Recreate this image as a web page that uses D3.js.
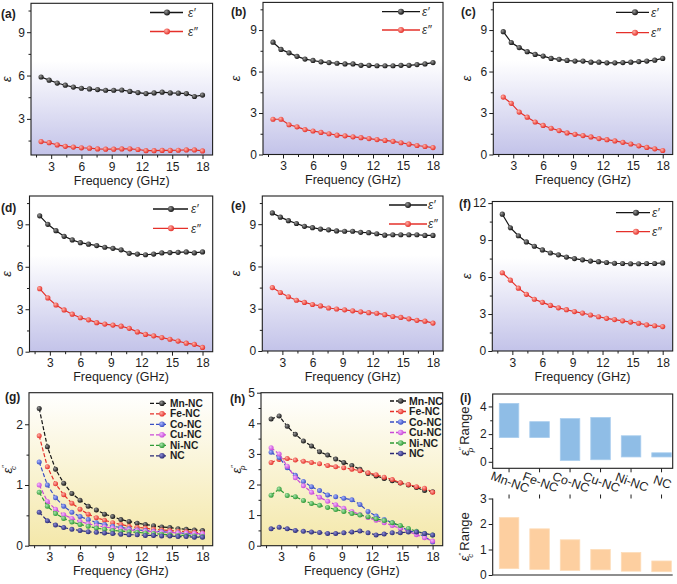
<!DOCTYPE html>
<html><head><meta charset="utf-8">
<script src="https://cdn.jsdelivr.net/npm/d3@7"></script>
<style>body{margin:0;background:#fff} svg{display:block;font-family:"Liberation Sans",Arial,sans-serif}</style>
</head><body><svg id="c" width="677" height="584"></svg>
<script>
// ---------- DATA ----------
const freq = [2,2.8,3.6,4.4,5.2,6,6.8,7.6,8.4,9.2,10,10.8,11.6,12.4,13.2,14,14.8,15.6,16.4,17.2,18];
const xTicks = [3,6,9,12,15,18];
const xMinor = [1.5,4.5,7.5,10.5,13.5,16.5];

const a_real = [5.9,5.68,5.48,5.33,5.2,5.12,5.07,5.03,4.98,4.98,5.0,4.9,4.82,4.75,4.8,4.85,4.8,4.78,4.75,4.55,4.65];
const a_imag = [1.43,1.35,1.2,1.1,1.05,1.0,0.97,0.92,0.9,0.9,0.92,0.93,0.88,0.8,0.8,0.82,0.82,0.83,0.85,0.85,0.78];
const b_real = [8.12,7.6,7.35,7.1,6.9,6.8,6.7,6.65,6.6,6.55,6.55,6.45,6.45,6.42,6.42,6.42,6.45,6.45,6.5,6.55,6.65];
const b_imag = [2.55,2.55,2.15,2.0,1.8,1.7,1.6,1.5,1.4,1.35,1.28,1.22,1.15,1.08,1.02,0.95,0.85,0.75,0.65,0.58,0.5];
const c_real = [8.88,8.1,7.73,7.44,7.24,7.12,6.95,6.88,6.8,6.76,6.76,6.68,6.68,6.63,6.63,6.65,6.68,6.72,6.76,6.82,6.95];
const c_imag = [4.15,3.7,3.07,2.7,2.35,2.1,1.9,1.73,1.56,1.46,1.37,1.27,1.15,1.07,0.98,0.88,0.76,0.63,0.51,0.41,0.29];
const d_real = [9.6,9.0,8.55,8.15,7.9,7.7,7.6,7.5,7.38,7.3,7.2,6.95,6.9,6.85,6.9,6.98,7.0,7.02,7.05,6.98,7.05];
const d_imag = [4.45,3.8,3.3,2.95,2.65,2.4,2.25,2.05,1.95,1.88,1.8,1.65,1.4,1.22,1.12,1.0,0.88,0.75,0.6,0.52,0.3];
const e_real = [9.8,9.5,9.25,9.05,8.85,8.75,8.65,8.6,8.52,8.5,8.5,8.42,8.4,8.32,8.22,8.25,8.25,8.25,8.25,8.2,8.2];
const e_imag = [4.5,4.15,3.85,3.6,3.45,3.3,3.2,3.05,2.98,2.92,2.85,2.78,2.72,2.68,2.58,2.45,2.38,2.28,2.18,2.12,1.98];
const f_real = [11.1,10.0,9.35,8.85,8.5,8.2,7.95,7.8,7.62,7.5,7.4,7.3,7.25,7.18,7.12,7.1,7.08,7.08,7.1,7.1,7.15];
const f_imag = [6.35,5.75,5.1,4.6,4.2,3.95,3.7,3.5,3.35,3.2,3.08,2.92,2.78,2.65,2.55,2.45,2.35,2.25,2.12,2.05,1.98];

const materials = ["Mn-NC","Fe-NC","Co-NC","Cu-NC","Ni-NC","NC"];
// conduction loss eps''_c (g)
const gc_Mn = [2.26,1.63,1.26,1.03,0.86,0.75,0.65,0.59,0.52,0.48,0.43,0.4,0.37,0.35,0.33,0.31,0.3,0.28,0.27,0.26,0.25];
const gc_Fe = [1.81,1.3,1.02,0.84,0.7,0.6,0.52,0.46,0.42,0.38,0.35,0.32,0.3,0.29,0.27,0.26,0.25,0.24,0.23,0.22,0.21];
const gc_Co = [1.38,1.0,0.79,0.65,0.55,0.48,0.43,0.38,0.35,0.32,0.3,0.28,0.26,0.25,0.24,0.23,0.22,0.21,0.2,0.19,0.18];
const gc_Cu = [1.0,0.73,0.6,0.51,0.45,0.4,0.36,0.33,0.31,0.29,0.27,0.26,0.25,0.24,0.23,0.22,0.22,0.21,0.21,0.2,0.2];
const gc_Ni = [0.88,0.65,0.53,0.45,0.39,0.35,0.32,0.29,0.27,0.25,0.24,0.23,0.22,0.21,0.2,0.19,0.18,0.17,0.17,0.16,0.15];
const gc_NC = [0.55,0.41,0.34,0.3,0.27,0.25,0.23,0.22,0.21,0.2,0.19,0.18,0.18,0.17,0.17,0.16,0.16,0.15,0.15,0.14,0.14];
// polarization loss eps''_p (h)
const hp_Mn = [4.14,4.24,3.9,3.64,3.42,3.26,3.07,2.96,2.83,2.72,2.62,2.5,2.36,2.28,2.2,2.12,2.05,1.98,1.9,1.8,1.76];
const hp_Fe = [2.72,2.82,2.85,2.8,2.76,2.72,2.68,2.62,2.58,2.55,2.5,2.45,2.38,2.32,2.24,2.16,2.06,2.0,1.93,1.88,1.75];
const hp_Co = [3.05,2.88,2.55,2.3,2.1,1.93,1.8,1.66,1.6,1.55,1.5,1.35,1.12,0.97,0.86,0.75,0.62,0.5,0.42,0.3,0.12];
const hp_Cu = [3.2,3.0,2.6,2.22,1.96,1.75,1.58,1.45,1.34,1.22,1.12,1.02,0.92,0.83,0.75,0.66,0.56,0.46,0.36,0.26,0.15];
const hp_Ni = [1.65,1.85,1.64,1.6,1.48,1.38,1.32,1.25,1.18,1.12,1.05,1.0,0.95,0.88,0.82,0.75,0.66,0.56,0.47,0.4,0.35];
const hp_NC = [0.55,0.6,0.55,0.5,0.47,0.45,0.43,0.4,0.4,0.42,0.45,0.48,0.42,0.35,0.38,0.42,0.42,0.45,0.45,0.4,0.35];
// ranges (i)
const epsP_low  = [1.75,1.75,0.1,0.15,0.35,0.35];
const epsP_high = [4.22,2.9,3.12,3.2,1.88,0.65];
const epsC_low  = [0.25,0.22,0.18,0.2,0.15,0.13];
const epsC_high = [2.25,1.81,1.38,1.0,0.88,0.55];

// ---------- STYLE ----------
const svg = d3.select("#c");
const defs = svg.append("defs");
const colors = {black:"#151515", red:"#e5302a", blue:"#3a4fc4", mag:"#c94ad8", green:"#2f9a36", navy:"#2a2a76"};
const lights = {black:"#9a9a9a", red:"#ffb2a8", blue:"#a9b6ff", mag:"#f3b8ff", green:"#a8e6ac", navy:"#8c8cd6"};
Object.keys(colors).forEach(k=>{
  const rg = defs.append("radialGradient").attr("id","sph-"+k).attr("cx","0.4").attr("cy","0.4").attr("r","0.6").attr("fx","0.35").attr("fy","0.35");
  rg.append("stop").attr("offset","0%").attr("stop-color",lights[k]);
  rg.append("stop").attr("offset","100%").attr("stop-color",colors[k]);
});
const lav = defs.append("linearGradient").attr("id","lav").attr("x1",0).attr("y1",0).attr("x2",0).attr("y2",1);
lav.append("stop").attr("offset","0%").attr("stop-color","#ffffff");
lav.append("stop").attr("offset","38%").attr("stop-color","#ffffff");
lav.append("stop").attr("offset","100%").attr("stop-color","#c3c3e9");
const yel = defs.append("linearGradient").attr("id","yel").attr("x1",0).attr("y1",0).attr("x2",0).attr("y2",1);
yel.append("stop").attr("offset","0%").attr("stop-color","#ffffff");
yel.append("stop").attr("offset","100%").attr("stop-color","#f4e8aa");

const TXT = "#1e1e1e";
const fmt = d3.format("~g");
function styleAxis(sel){
  sel.select(".domain").remove();
  sel.selectAll(".tick line").attr("stroke",TXT).attr("stroke-width",1);
  sel.selectAll(".tick text").attr("fill",TXT).attr("font-size","12px").attr("font-family","Liberation Sans, Arial, sans-serif");
}

function epsLabel(g, x, y, sub, suffix, size){
  const t = g.append("text").attr("transform",`translate(${x},${y}) rotate(-90)`)
    .attr("text-anchor","middle").attr("fill",TXT).attr("font-size",size+"px");
  t.append("tspan").attr("font-style","italic").text("ε");
  if(sub){
    t.append("tspan").attr("font-size","8px").attr("dy",-5).text("″");
    t.append("tspan").attr("font-size","8px").attr("font-style","italic").attr("dx",-5).attr("dy",9).text(sub);
    if(suffix) t.append("tspan").attr("dy",-4).attr("dx",3).text(suffix);
  }
  return t;
}

function linePanel(cfg){
  const g = svg.append("g");
  const x = d3.scaleLinear().domain([1,19]).range([cfg.l,cfg.r]);
  const y = d3.scaleLinear().domain(cfg.yd).range([cfg.b,cfg.t]);
  g.append("rect").attr("x",cfg.l).attr("y",cfg.t).attr("width",cfg.r-cfg.l).attr("height",cfg.b-cfg.t).attr("fill",`url(#${cfg.grad})`);
  const xa = g.append("g").attr("transform",`translate(0,${cfg.b})`).call(d3.axisBottom(x).tickValues(xTicks).tickSize(4).tickPadding(3).tickFormat(fmt));
  styleAxis(xa);
  const xm = g.append("g").attr("transform",`translate(0,${cfg.b})`).call(d3.axisBottom(x).tickValues(xMinor).tickSize(2.5).tickFormat(""));
  styleAxis(xm);
  const ya = g.append("g").attr("transform",`translate(${cfg.l},0)`).call(d3.axisLeft(y).tickValues(cfg.yt).tickSize(4).tickPadding(2).tickFormat(fmt));
  styleAxis(ya);
  const ym = g.append("g").attr("transform",`translate(${cfg.l},0)`).call(d3.axisLeft(y).tickValues(cfg.ym).tickSize(2.5).tickFormat(""));
  styleAxis(ym);
  const line = d3.line().x((d,i)=>x(freq[i])).y(d=>y(d));
  cfg.series.forEach(s=>{
    g.append("path").datum(s.v).attr("d",line).attr("fill","none").attr("stroke",colors[s.c]).attr("stroke-width",1.2)
      .attr("stroke-dasharray",cfg.dashed?"4,2":null);
    g.append("g").selectAll("circle").data(s.v).join("circle")
      .attr("cx",(d,i)=>x(freq[i])).attr("cy",d=>y(d)).attr("r",cfg.mr||2.6).attr("fill",`url(#sph-${s.c})`);
  });
  g.append("rect").attr("x",cfg.l).attr("y",cfg.t).attr("width",cfg.r-cfg.l).attr("height",cfg.b-cfg.t).attr("fill","none").attr("stroke",TXT).attr("stroke-width",1.1);
  g.append("text").attr("x",(cfg.l+cfg.r)/2).attr("y",cfg.b+cfg.xtOff).attr("text-anchor","middle").attr("font-size","12.5px").attr("fill",TXT).text("Frequency (GHz)");
  g.append("text").attr("x",cfg.lab[0]).attr("y",cfg.lab[1]).attr("font-size","12px").attr("font-weight","bold").attr("fill",TXT).text(cfg.name);
  return {g,x,y};
}

// ---------- PANELS a-f ----------
const eps2 = [{name:"ε′"},{name:"ε″"}];
const rowPanels = [
  {name:"(a)",l:31,r:212.6,t:3.3,b:155,yd:[0.5,11],yt:[3,6,9],ym:[1.5,4.5,7.5,10.5],re:a_real,im:a_imag,lab:[1,18],yl:11,leg:[150,183,167,188,12.5,31.5]},
  {name:"(b)",l:263,r:443,t:2.4,b:154.5,yd:[0,11],yt:[0,3,6,9],ym:[1.5,4.5,7.5,10.5],re:b_real,im:b_imag,lab:[231,16],yl:240,leg:[382,420,401,422,11.7,30]},
  {name:"(c)",l:493.3,r:672.7,t:2.4,b:154.5,yd:[0,11],yt:[0,3,6,9],ym:[1.5,4.5,7.5,10.5],re:c_real,im:c_imag,lab:[461,16],yl:471,leg:[616,649,635,651,12.3,32.7]},
  {name:"(d)",l:29.5,r:212.7,t:196,b:351.7,yd:[0,11],yt:[0,3,6,9],ym:[1.5,4.5,7.5,10.5],re:d_real,im:d_imag,lab:[1,212],yl:11,leg:[153,188,171,191,209,228.3]},
  {name:"(e)",l:262.3,r:443,t:196,b:351,yd:[0,11],yt:[0,3,6,9],ym:[1.5,4.5,7.5,10.5],re:e_real,im:e_imag,lab:[231,210],yl:240,leg:[389,427,408,428,205,224]},
  {name:"(f)",l:492.3,r:672.7,t:201.5,b:351,yd:[0,12.13],yt:[0,3,6,9,12],ym:[1.5,4.5,7.5,10.5],re:f_real,im:f_imag,lab:[459,208],yl:471,leg:[616,650,636,652,212.7,231.7]}
];
rowPanels.forEach(p=>{
  const P = linePanel({...p, grad:"lav", xtOff:29.5, series:[{v:p.re,c:"black"},{v:p.im,c:"red"}]});
  epsLabel(P.g, p.yl, (p.t+p.b)/2, null, null, 13);
  const L = p.leg;
  [["black",L[4],eps2[0].name],["red",L[5],eps2[1].name]].forEach(([c,yy,nm])=>{
    P.g.append("line").attr("x1",L[0]).attr("x2",L[1]).attr("y1",yy).attr("y2",yy).attr("stroke",colors[c]).attr("stroke-width",1.3);
    P.g.append("circle").attr("cx",L[2]).attr("cy",yy).attr("r",3).attr("fill",`url(#sph-${c})`);
    P.g.append("text").attr("x",L[3]).attr("y",yy).attr("dy","0.35em").attr("font-size","12px").attr("font-style","italic").attr("fill","#333").text(nm);
  });
});

// ---------- PANELS g, h ----------
const matColors = ["black","red","blue","mag","green","navy"];
const gSeries = [gc_Mn,gc_Fe,gc_Co,gc_Cu,gc_Ni,gc_NC];
const hSeries = [hp_Mn,hp_Fe,hp_Co,hp_Cu,hp_Ni,hp_NC];
const ghPanels = [
  {name:"(g)",l:29,r:212.7,t:392.7,b:545.7,yd:[0,2.52],yt:[0,1,2],ym:[0.5,1.5],data:gSeries,lab:[5,401],yl:12,sub:"c",leg:[150,168,162,170],legY:[403.3,413.8,424.3,434.8,445.3,455.8],fs:10.2},
  {name:"(h)",l:261,r:442.7,t:392.7,b:545.7,yd:[0,5],yt:[0,1,2,3,4,5],ym:[0.5,1.5,2.5,3.5,4.5],data:hSeries,lab:[230,403],yl:241,sub:"p",leg:[390,407,400.7,409],legY:[401,411.5,422,432.5,443,453.5],fs:10.5}
];
ghPanels.forEach(p=>{
  const P = linePanel({...p, grad:"yel", dashed:true, mr:2.5, xtOff:29.5, series:p.data.map((v,i)=>({v,c:matColors[i]}))});
  epsLabel(P.g, p.yl, (p.t+p.b)/2, p.sub, null, 13);
  materials.forEach((m,i)=>{
    const yy = p.legY[i], c = matColors[i];
    P.g.append("line").attr("x1",p.leg[0]).attr("x2",p.leg[1]).attr("y1",yy).attr("y2",yy).attr("stroke",colors[c]).attr("stroke-width",1.3).attr("stroke-dasharray","4,2");
    P.g.append("circle").attr("cx",p.leg[2]).attr("cy",yy).attr("r",2.8).attr("fill",`url(#sph-${c})`);
    P.g.append("text").attr("x",p.leg[3]).attr("y",yy).attr("dy","0.36em").attr("font-size",p.fs+"px").attr("font-weight","bold").attr("fill",TXT).text(m);
  });
});

// ---------- PANEL i ----------
const gi = svg.append("g");
gi.append("text").attr("x",460).attr("y",402).attr("font-size","12px").attr("font-weight","bold").attr("fill",TXT).text("(i)");
const xb = d3.scaleBand().domain(materials).range([499.3,671.3]).paddingInner(0.36).paddingOuter(0);
const it = {l:492.7,r:672.7,t:394,b:468.3};
const yTop = d3.scaleLinear().domain([-0.47,4.9]).range([it.b,it.t]);
gi.selectAll("rect.bp").data(materials).join("rect").attr("class","bp")
  .attr("x",d=>xb(d)).attr("width",xb.bandwidth())
  .attr("y",(d,i)=>yTop(epsP_high[i])).attr("height",(d,i)=>yTop(epsP_low[i])-yTop(epsP_high[i]))
  .attr("fill","#8fbde6").attr("stroke","#a9cdee").attr("stroke-width",0.8);
let ax = gi.append("g").attr("transform",`translate(${it.l},0)`).call(d3.axisLeft(yTop).tickValues([0,2,4]).tickSize(4).tickPadding(2).tickFormat(fmt));
styleAxis(ax);
ax = gi.append("g").attr("transform",`translate(${it.l},0)`).call(d3.axisLeft(yTop).tickValues([1,3]).tickSize(2.5).tickFormat(""));
styleAxis(ax);
ax = gi.append("g").attr("transform",`translate(0,${it.b})`).call(d3.axisBottom(xb).tickSize(4).tickFormat(""));
styleAxis(ax);
gi.append("rect").attr("x",it.l).attr("y",it.t).attr("width",it.r-it.l).attr("height",it.b-it.t).attr("fill","none").attr("stroke",TXT).attr("stroke-width",1.1);
gi.selectAll("text.cat").data(materials).join("text").attr("class","cat")
  .attr("transform",d=>`translate(${xb(d)+xb.bandwidth()/2+1},${482}) rotate(20)`)
  .attr("text-anchor","middle").attr("dy","0.35em").attr("font-size","12.5px").attr("fill",TXT).text(d=>d);
epsLabel(gi, 469, (it.t+it.b)/2, "p", "Range", 13);

const ib = {l:492.7,r:672.7,t:498.5,b:575};
const yBot = d3.scaleLinear().domain([0,3]).range([ib.b,ib.t]);
gi.selectAll("rect.bc").data(materials).join("rect").attr("class","bc")
  .attr("x",d=>xb(d)).attr("width",xb.bandwidth())
  .attr("y",(d,i)=>yBot(epsC_high[i])).attr("height",(d,i)=>yBot(epsC_low[i])-yBot(epsC_high[i]))
  .attr("fill","#fdcfa0").attr("stroke","#fddcb8").attr("stroke-width",0.8);
ax = gi.append("g").attr("transform",`translate(${ib.l},0)`).call(d3.axisLeft(yBot).tickValues([0,1,2,3]).tickSize(4).tickPadding(2).tickFormat(fmt));
styleAxis(ax);
ax = gi.append("g").attr("transform",`translate(0,${ib.t})`).call(d3.axisTop(xb).tickSize(4).tickFormat(""));
styleAxis(ax);
gi.append("line").attr("x1",ib.l).attr("x2",ib.l).attr("y1",ib.t).attr("y2",ib.b).attr("stroke",TXT).attr("stroke-width",1.1);
gi.append("line").attr("x1",ib.l).attr("x2",ib.r).attr("y1",ib.b).attr("y2",ib.b).attr("stroke",TXT).attr("stroke-width",1.1);
epsLabel(gi, 469, (ib.t+ib.b)/2, "c", "Range", 13);
</script></body></html>
